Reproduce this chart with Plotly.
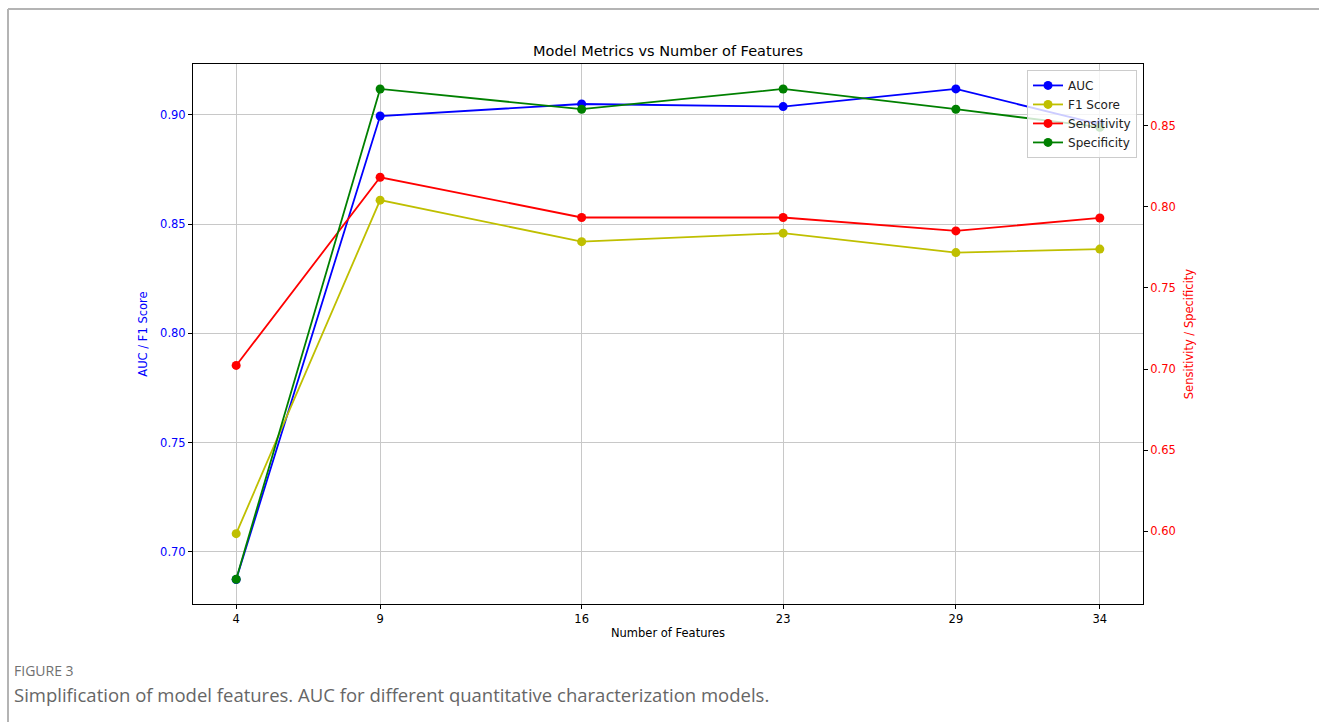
import plotly.graph_objects as go

features = [4, 9, 16, 23, 29, 34]
auc = [0.6874, 0.8995, 0.9050, 0.9038, 0.9119, 0.8957]
f1 = [0.7084, 0.8610, 0.8420, 0.8459, 0.8370, 0.8386]
sensitivity = [0.7022, 0.8183, 0.7935, 0.7935, 0.7852, 0.7932]
specificity = [0.5703, 0.8728, 0.8603, 0.8728, 0.8603, 0.8492]

FONT = "DejaVu Sans"
fig = go.Figure()

series = [
    ("AUC", auc, "#0000ff", "y"),
    ("F1 Score", f1, "#bfbf00", "y"),
    ("Sensitivity", sensitivity, "#ff0000", "y2"),
    ("Specificity", specificity, "#008000", "y2"),
]
for name, vals, col, ax in series:
    fig.add_trace(go.Scatter(
        x=features, y=vals, name=name, mode="lines+markers",
        line=dict(color=col, width=1.8),
        marker=dict(color=col, size=9, symbol="circle"),
        yaxis=ax,
    ))

L, R, T, B = 193, 176, 64, 122
W, H = 1319, 726
pw, ph = W - L - R, H - T - B

def px_x(x):
    return (x - L) / pw

def px_y(y):
    return (H - B - y) / ph

TS = 11.5

fig.update_layout(
    width=W, height=H,
    margin=dict(l=L, r=R, t=T, b=B, pad=0),
    paper_bgcolor="white", plot_bgcolor="white",
    font=dict(family=FONT, size=TS, color="black"),
    title=dict(text="Model Metrics vs Number of Features", x=0.5, xref="paper",
               xanchor="center", y=1 - 51 / H, yref="container", yanchor="middle",
               font=dict(family=FONT, size=14.5, color="black")),
    xaxis=dict(
        range=[2.5, 35.5], tickvals=features, ticktext=[str(v) for v in features],
        showgrid=True, gridcolor="#c8c8c8", gridwidth=1,
        showline=True, linecolor="black", linewidth=1, mirror=True,
        ticks="outside", ticklen=4, tickcolor="black", zeroline=False,
        title=dict(text="Number of Features", font=dict(size=TS, color="black"), standoff=4),
        tickfont=dict(size=TS, color="black"),
    ),
    yaxis=dict(
        range=[0.6762, 0.9233], tickvals=[0.70, 0.75, 0.80, 0.85, 0.90],
        ticktext=["0.70", "0.75", "0.80", "0.85", "0.90"],
        showgrid=True, gridcolor="#c8c8c8", gridwidth=1,
        showline=True, linecolor="black", linewidth=1,
        ticks="outside", ticklen=4, tickcolor="black", zeroline=False,
        tickfont=dict(size=TS, color="#0000ff"),
        title=dict(text="AUC / F1 Score", font=dict(size=TS, color="#0000ff"), standoff=10),
    ),
    yaxis2=dict(
        range=[0.555, 0.8882], overlaying="y", side="right",
        tickvals=[0.60, 0.65, 0.70, 0.75, 0.80, 0.85],
        ticktext=["0.60", "0.65", "0.70", "0.75", "0.80", "0.85"],
        showgrid=False, showline=True, linecolor="black", linewidth=1,
        ticks="outside", ticklen=4, tickcolor="black", zeroline=False,
        tickfont=dict(size=TS, color="#ff0000"),
        title=dict(text="Sensitivity / Specificity", font=dict(size=TS, color="#ff0000"), standoff=10),
    ),
    legend=dict(
        x=0.9937, y=0.989, xanchor="right", yanchor="top",
        bgcolor="rgba(255,255,255,0.8)", bordercolor="#cccccc", borderwidth=1,
        font=dict(size=12, color="#222222"), itemwidth=30, tracegroupgap=0,
    ),
    showlegend=True,
)

# card frame lines
fig.add_shape(type="line", xref="paper", yref="paper",
              x0=px_x(8), x1=px_x(1319), y0=px_y(9), y1=px_y(9),
              line=dict(color="#b4b4b4", width=2))
fig.add_shape(type="line", xref="paper", yref="paper",
              x0=px_x(8), x1=px_x(8), y0=px_y(9), y1=px_y(722),
              line=dict(color="#b4b4b4", width=2))

fig.add_annotation(text="FIGURE 3", xref="paper", yref="paper",
                   x=px_x(12), y=px_y(670), xanchor="left", yanchor="middle",
                   showarrow=False, font=dict(family="Open Sans", size=14, color="#707070"))
fig.add_annotation(text="Simplification of model features. AUC for different quantitative characterization models.",
                   xref="paper", yref="paper",
                   x=px_x(12), y=px_y(694), xanchor="left", yanchor="middle",
                   showarrow=False, font=dict(family="Open Sans", size=18.5, color="#666666"))

fig.write_html("out.html")
